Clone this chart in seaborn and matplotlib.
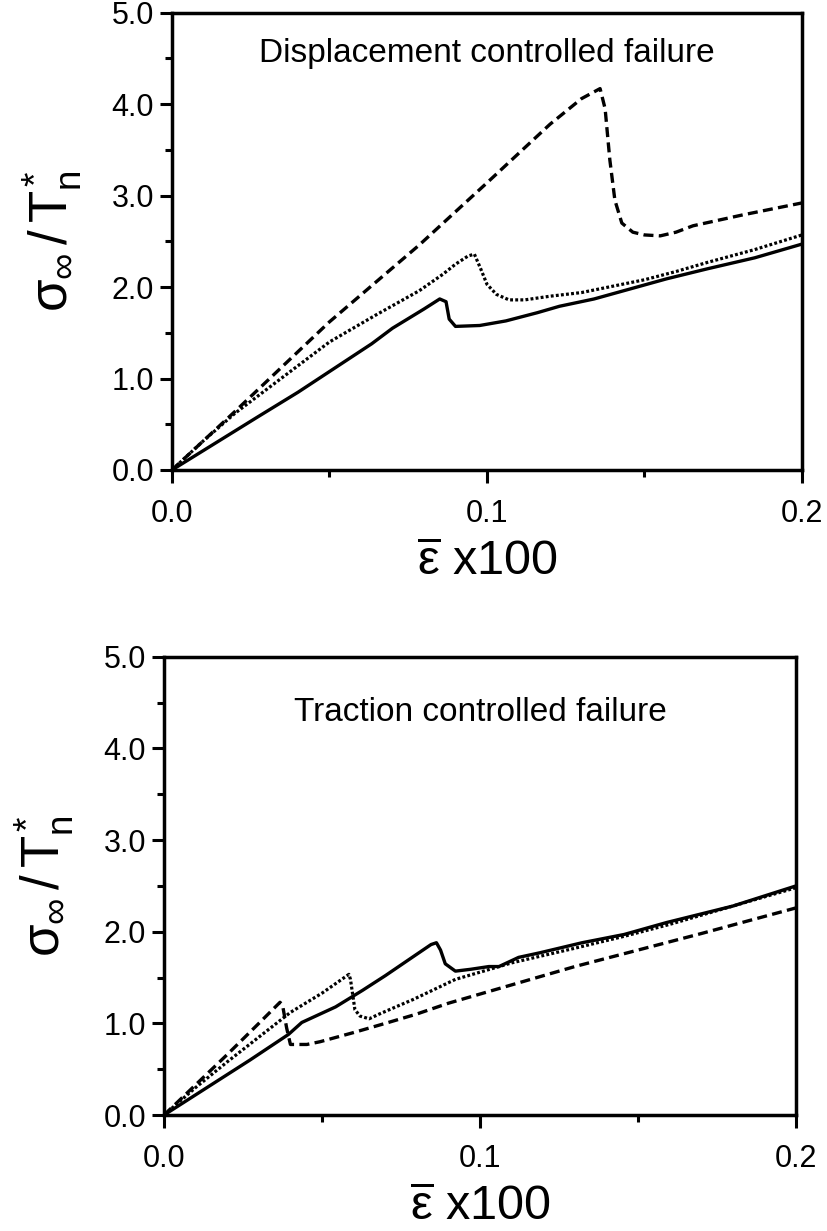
import numpy as np
import pandas as pd
import matplotlib
matplotlib.use("Agg")
import matplotlib.pyplot as plt
import seaborn as sns
from matplotlib.ticker import MultipleLocator, FixedLocator

# ---------------- data ----------------
# Top panel: displacement controlled failure
top_solid_x = [0, 0.0272, 0.04, 0.0634, 0.07, 0.08, 0.085, 0.087, 0.088, 0.090, 0.0977, 0.106,
               0.116, 0.123, 0.134, 0.157, 0.170, 0.185, 0.200]
top_solid_y = [0, 0.58, 0.85, 1.38, 1.55, 1.76, 1.87, 1.84, 1.65, 1.57, 1.58, 1.63,
               1.72, 1.79, 1.87, 2.09, 2.20, 2.32, 2.47]

top_dot_x = [0, 0.01, 0.02, 0.03, 0.04, 0.05, 0.065, 0.0785, 0.086, 0.090, 0.094, 0.096,
             0.098, 0.100, 0.103, 0.107, 0.112, 0.120, 0.130, 0.140, 0.150, 0.160,
             0.170, 0.185, 0.200]
top_dot_y = [0, 0.32, 0.62, 0.88, 1.14, 1.40, 1.70, 1.96, 2.14, 2.25, 2.34, 2.36,
             2.20, 2.03, 1.92, 1.86, 1.86, 1.90, 1.94, 2.01, 2.08, 2.17, 2.27,
             2.41, 2.57]

top_dash_x = [0, 0.02, 0.05, 0.0785, 0.10, 0.12, 0.130, 0.1359, 0.1375, 0.139, 0.1406,
              0.1428, 0.1463, 0.150, 0.155, 0.160, 0.1654, 0.1813, 0.200]
top_dash_y = [0, 0.64, 1.62, 2.46, 3.14, 3.78, 4.06, 4.17, 3.95, 3.39, 2.95,
              2.70, 2.60, 2.57, 2.56, 2.60, 2.67, 2.79, 2.92]

# Bottom panel: traction controlled failure
bot_solid_x = [0, 0.0272, 0.0394, 0.0436, 0.0543, 0.0628, 0.0700, 0.0798, 0.0845,
               0.0862, 0.0875, 0.089, 0.0922, 0.097, 0.1028, 0.106, 0.1122, 0.1189,
               0.1323, 0.1456, 0.159, 0.180, 0.200]
bot_solid_y = [0, 0.60, 0.88, 1.01, 1.18, 1.36, 1.52, 1.75, 1.86,
               1.88, 1.80, 1.65, 1.57, 1.59, 1.62, 1.62, 1.72, 1.77,
               1.88, 1.97, 2.10, 2.28, 2.50]

bot_dot_x = [0, 0.01, 0.02, 0.03, 0.04, 0.05, 0.0585, 0.059, 0.0604, 0.062, 0.0649, 0.068,
             0.0747, 0.0788, 0.0922, 0.110, 0.130, 0.1456, 0.160, 0.180, 0.200]
bot_dot_y = [0, 0.30, 0.58, 0.85, 1.12, 1.33, 1.535, 1.48, 1.15, 1.08, 1.05, 1.10,
             1.20, 1.26, 1.48, 1.66, 1.82, 1.95, 2.08, 2.28, 2.48]

bot_dash_x = [0, 0.01, 0.02, 0.03, 0.0367, 0.0375, 0.0388, 0.040, 0.0452, 0.0494, 0.060,
              0.070, 0.0798, 0.090, 0.110, 0.130, 0.150, 0.170, 0.200]
bot_dash_y = [0, 0.33, 0.66, 1.00, 1.23, 1.20, 0.95, 0.77, 0.77, 0.80, 0.90,
              1.00, 1.10, 1.22, 1.42, 1.62, 1.80, 1.98, 2.26]

x_ticks = [0.0, 0.1, 0.2]
x_ticklabels = ["0.0", "0.1", "0.2"]
y_ticks = [0.0, 1.0, 2.0, 3.0, 4.0, 5.0]
y_ticklabels = ["0.0", "1.0", "2.0", "3.0", "4.0", "5.0"]
titles = ["Displacement controlled failure", "Traction controlled failure"]

# ---------------- style ----------------
sns.set_theme(style="white")
FONT = ["Liberation Sans", "DejaVu Sans"]
plt.rcParams["font.family"] = FONT
plt.rcParams["mathtext.fontset"] = "custom"
plt.rcParams["mathtext.rm"] = "Liberation Sans"
plt.rcParams["mathtext.it"] = "Liberation Sans"
plt.rcParams["mathtext.bf"] = "Liberation Sans"
plt.rcParams["text.color"] = "black"
plt.rcParams["axes.labelcolor"] = "black"
plt.rcParams["xtick.color"] = "black"
plt.rcParams["ytick.color"] = "black"

fig = plt.figure(figsize=(8.28, 12.31), dpi=100)
ax_top = fig.add_axes([0.2077, 0.6182, 0.7609, 0.3715])
ax_bot = fig.add_axes([0.1981, 0.0942, 0.7633, 0.3723])

LW = 2.4
styles = {
    "solid": dict(linestyle="-", linewidth=LW),
    "dot": dict(linestyle=(0, (0.9, 0.7)), linewidth=2.3),
    "dash": dict(linestyle=(0, (3.0, 1.6)), linewidth=LW),
}

def draw(ax, curves, title, title_y):
    for kind, xs, ys in curves:
        df = pd.DataFrame({"x": xs, "y": ys})
        sns.lineplot(data=df, x="x", y="y", ax=ax, sort=False, estimator=None,
                     color="black", **styles[kind])
    ax.set_xlim(0, 0.2)
    ax.set_ylim(0, 5.0)
    ax.xaxis.set_major_locator(FixedLocator(x_ticks))
    ax.set_xticklabels(x_ticklabels)
    ax.xaxis.set_minor_locator(MultipleLocator(0.05))
    ax.yaxis.set_major_locator(FixedLocator(y_ticks))
    ax.set_yticklabels(y_ticklabels)
    ax.yaxis.set_minor_locator(MultipleLocator(0.5))
    ax.tick_params(which="both", direction="out", color="black", width=2.2,
                   bottom=True, left=True, top=False, right=False)
    ax.tick_params(which="major", length=9, labelsize=22)
    ax.tick_params(axis="y", which="major", pad=4)
    ax.tick_params(axis="x", which="major", pad=12)
    ax.tick_params(which="minor", length=5)
    for sp in ax.spines.values():
        sp.set_linewidth(2.5)
        sp.set_color("black")
    ax.set_xlabel(r"$\overline{\varepsilon}$ x100", fontsize=35, labelpad=8)
    ax.set_ylabel(r"$\sigma_{\infty}\,/\,T_{n}^{*}$", fontsize=38, labelpad=20)
    ax.text(0.5, title_y, title, transform=ax.transAxes,
            ha="center", va="center", fontsize=24)

draw(ax_top, [("solid", top_solid_x, top_solid_y),
              ("dot", top_dot_x, top_dot_y),
              ("dash", top_dash_x, top_dash_y)], titles[0], 0.91)
draw(ax_bot, [("solid", bot_solid_x, bot_solid_y),
              ("dot", bot_dot_x, bot_dot_y),
              ("dash", bot_dash_x, bot_dash_y)], titles[1], 0.878)

fig.savefig("out.png", dpi=100, facecolor="white")
